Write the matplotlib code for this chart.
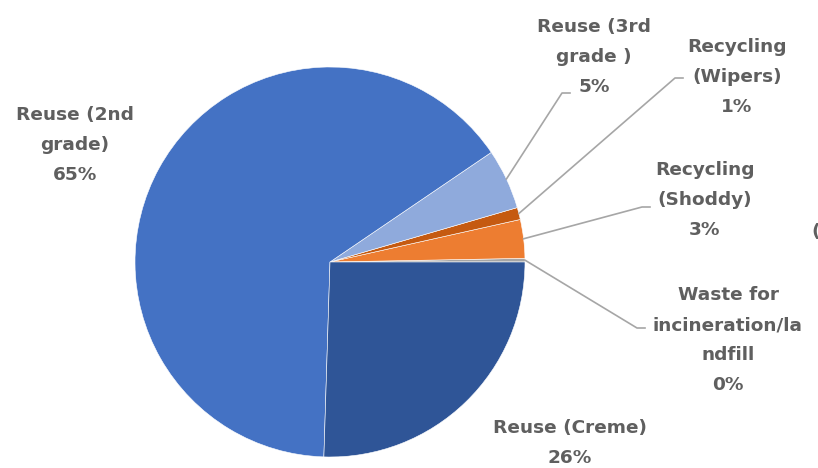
import matplotlib.pyplot as plt
import numpy as np

categories = ['Waste for\nincineration/la\nndfill', 'Recycling\n(Shoddy)', 'Recycling\n(Wipers)',
              'Reuse (3rd\ngrade )', 'Reuse (2nd\ngrade)', 'Reuse (Creme)']
shares = [0.3, 3.2, 1.0, 5.0, 65.0, 25.5]
colors = ['#A5A5A5', '#ED7D31', '#C55A11', '#8FAADC', '#4472C4', '#2F5597']

# label centre positions in pixel coordinates (x, y from top)
label_pos = [(728, 340), (705, 200), (737, 77), (594, 57), (75, 145), (570, 443)]
# where the leader line ends next to the label (None = no leader line)
leader_end = [(645, 328), (650, 207), (683, 78), (570, 93), None, None]

W, H = 818, 468
fig = plt.figure(figsize=(W / 100, H / 100), dpi=100)
ax = fig.add_axes([0, 0, 1, 1])

cx, cy, r = 330, H - 262, 195
wedges, _ = ax.pie(shares, colors=colors, startangle=0, counterclock=True,
                   center=(cx, cy), radius=r,
                   wedgeprops=dict(edgecolor='white', linewidth=0.4))
ax.set_xlim(0, W)
ax.set_ylim(0, H)
ax.set_aspect('equal')
ax.axis('off')

text_color = '#5f5f5f'
for i, (cat, val) in enumerate(zip(categories, shares)):
    lx, ly = label_pos[i]
    ax.text(lx, H - ly, cat + '\n' + '%d%%' % round(val), ha='center', va='center',
            fontsize=13.3, fontweight='bold', color=text_color, family='DejaVu Sans',
            linespacing=1.85)
    if leader_end[i] is not None:
        w = wedges[i]
        ang = np.deg2rad((w.theta1 + w.theta2) / 2)
        sx, sy = cx + r * np.cos(ang), cy + r * np.sin(ang)
        ex, ey = leader_end[i]
        ey = H - ey
        ax.plot([sx, ex - 8, ex], [sy, ey, ey], color='#A6A6A6', linewidth=1.2)

# cut-off piece of text at the right edge
ax.text(811, H - 232, '(', fontsize=13.3, fontweight='bold', color=text_color,
        family='DejaVu Sans', va='center', ha='left', clip_on=True)

plt.savefig('out.png', dpi=100)
